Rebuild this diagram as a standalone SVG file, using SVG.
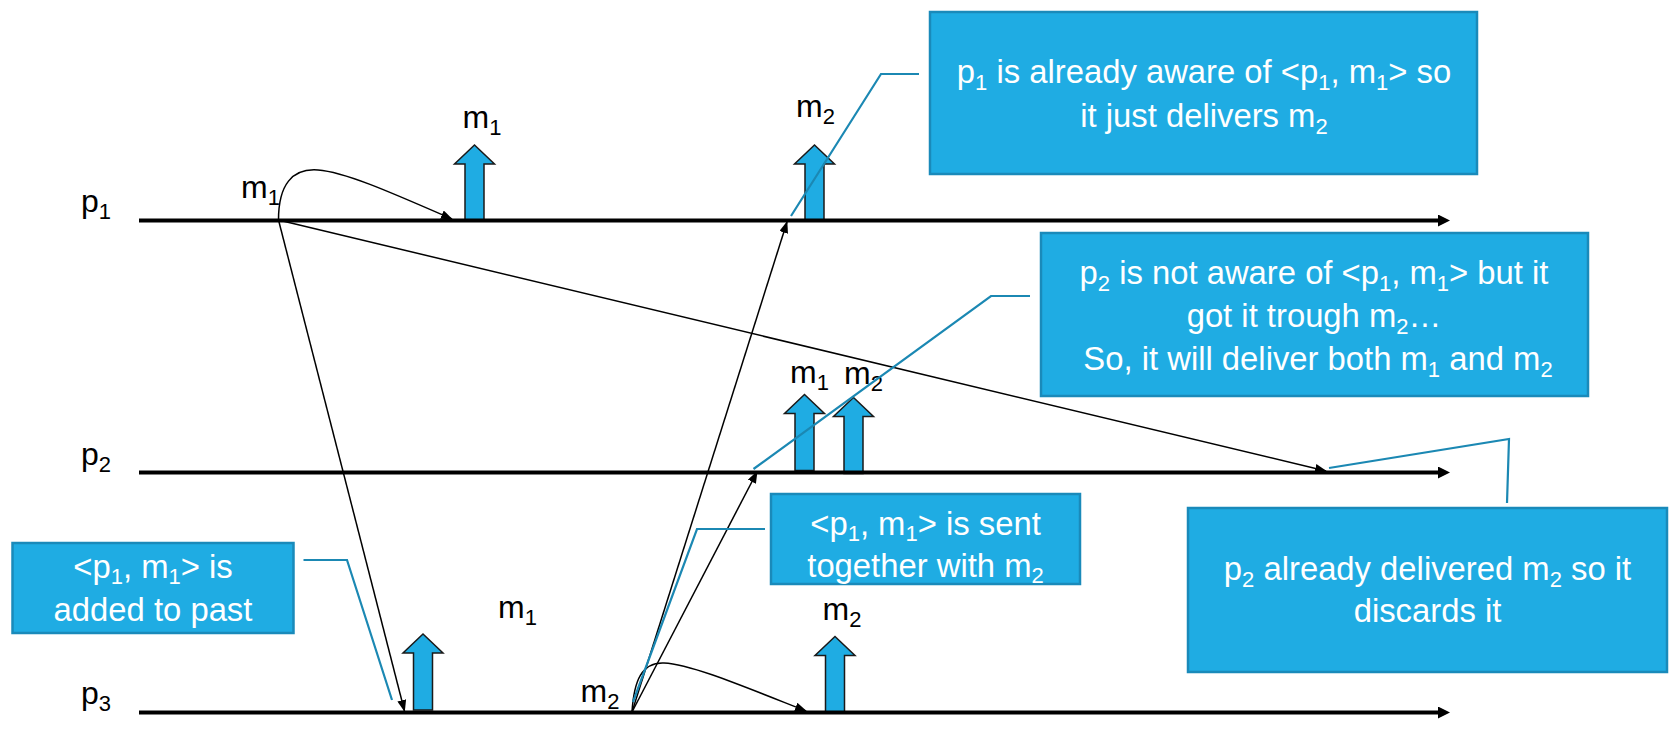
<svg xmlns="http://www.w3.org/2000/svg" xmlns:xlink="http://www.w3.org/1999/xlink" width="1679" height="729" viewBox="0 0 1679 729">
<style>
  .lbl { font-family: "Liberation Sans", Arial, sans-serif; font-size: 32px; fill: #000; }
  .box { fill: #1FACE3; stroke: #1A8ABA; stroke-width: 2.5; }
  .btxt { font-family: "Liberation Sans", Arial, sans-serif; font-size: 32.8px; fill: #fff; text-anchor: middle; }
  .s { font-size: 22px; }
  .proc { stroke: #000; stroke-width: 4; fill: none; marker-end: url(#bigHead); }
  .msg { stroke: #000; stroke-width: 1.5; fill: none; marker-end: url(#smallHead); }
  .call { stroke: #1B88B3; stroke-width: 2.2; fill: none; }
  .deliver { fill: #1FACE3; stroke: #1a1a1a; stroke-width: 1.5; }
</style>
<defs>
  <marker id="bigHead" viewBox="0 0 12 12" refX="1" refY="6" markerWidth="12" markerHeight="12" markerUnits="userSpaceOnUse" orient="auto">
    <path d="M0,0 L12,6 L0,12 z" fill="#000"/>
  </marker>
  <marker id="smallHead" viewBox="0 0 12 9" refX="11" refY="4.5" markerWidth="12" markerHeight="9" markerUnits="userSpaceOnUse" orient="auto">
    <path d="M0,0 L12,4.5 L0,9 z" fill="#000"/>
  </marker>
  <path id="blueArrow" d="M0,0 L20,19 L9.5,19 L9.5,76 L-9.5,76 L-9.5,19 L-20,19 Z"/>
</defs>

<!-- delivery arrows -->
<g id="deliveries">
  <use xlink:href="#blueArrow" href="#blueArrow" class="deliver" x="474.5" y="145"/>
  <use xlink:href="#blueArrow" href="#blueArrow" class="deliver" x="814.5" y="145"/>
  <use xlink:href="#blueArrow" href="#blueArrow" class="deliver" x="804.5" y="394.5"/>
  <use xlink:href="#blueArrow" href="#blueArrow" class="deliver" x="853.5" y="397.5"/>
  <use xlink:href="#blueArrow" href="#blueArrow" class="deliver" x="423" y="634"/>
  <use xlink:href="#blueArrow" href="#blueArrow" class="deliver" x="835" y="636.5"/>
</g>

<!-- process lines -->
<g id="processes">
  <g id="p1">
    <line class="proc" x1="139" y1="220.5" x2="1439" y2="220.5"/>
    <text class="lbl" x="81" y="212">p<tspan class="s" dy="7">1</tspan></text>
  </g>
  <g id="p2">
    <line class="proc" x1="139" y1="472.5" x2="1439" y2="472.5"/>
    <text class="lbl" x="81" y="465">p<tspan class="s" dy="7">2</tspan></text>
  </g>
  <g id="p3">
    <line class="proc" x1="139" y1="712.5" x2="1439" y2="712.5"/>
    <text class="lbl" x="81" y="704">p<tspan class="s" dy="7">3</tspan></text>
  </g>
</g>

<!-- message connectors -->
<g id="connectors">
  <path class="msg" d="M278.5,220 C278.5,185 292,168 318,170 C345,172 390,192 452,219"/>
  <line class="msg" x1="278.5" y1="220" x2="404.5" y2="711"/>
  <line class="msg" x1="278.5" y1="220" x2="1326" y2="471"/>
  <line class="msg" x1="632" y1="712" x2="787" y2="222"/>
  <line class="msg" x1="632" y1="712" x2="757" y2="472"/>
  <path class="msg" d="M632,712 C634,680 642,662 664,663 C690,664 740,685 806,711"/>
</g>

<!-- message labels -->
<g id="labels">
  <text class="lbl" x="241" y="198">m<tspan class="s" dy="7">1</tspan></text>
  <text class="lbl" x="462.5" y="128">m<tspan class="s" dy="7">1</tspan></text>
  <text class="lbl" x="796" y="117">m<tspan class="s" dy="7">2</tspan></text>
  <text class="lbl" x="790" y="382.5">m<tspan class="s" dy="7">1</tspan></text>
  <text class="lbl" x="844" y="383.5">m<tspan class="s" dy="7">2</tspan></text>
  <text class="lbl" x="498" y="618">m<tspan class="s" dy="7">1</tspan></text>
  <text class="lbl" x="580.5" y="702">m<tspan class="s" dy="7">2</tspan></text>
  <text class="lbl" x="822.5" y="620">m<tspan class="s" dy="7">2</tspan></text>
</g>

<!-- callout boxes -->
<g id="note1">
  <rect class="box" x="930" y="12" width="547" height="162"/>
  <text class="btxt" x="1204" y="83">p<tspan class="s" dy="7">1</tspan><tspan dy="-7"> is already aware of &lt;p</tspan><tspan class="s" dy="7">1</tspan><tspan dy="-7">, m</tspan><tspan class="s" dy="7">1</tspan><tspan dy="-7">&gt; so</tspan></text>
  <text class="btxt" x="1204" y="127">it just delivers m<tspan class="s" dy="7">2</tspan></text>
</g>
<g id="note2">
  <rect class="box" x="1041" y="233" width="547" height="163"/>
  <text class="btxt" x="1314" y="284">p<tspan class="s" dy="7">2</tspan><tspan dy="-7"> is not aware of &lt;p</tspan><tspan class="s" dy="7">1</tspan><tspan dy="-7">, m</tspan><tspan class="s" dy="7">1</tspan><tspan dy="-7">&gt; but it</tspan></text>
  <text class="btxt" x="1314" y="327">got it trough m<tspan class="s" dy="7">2</tspan><tspan dy="-7">…</tspan></text>
  <text class="btxt" x="1318" y="370">So, it will deliver both m<tspan class="s" dy="7">1</tspan><tspan dy="-7"> and m</tspan><tspan class="s" dy="7">2</tspan></text>
</g>
<g id="note3">
  <rect class="box" x="771" y="494" width="309" height="90"/>
  <text class="btxt" x="925.5" y="535">&lt;p<tspan class="s" dy="6">1</tspan><tspan dy="-6">, m</tspan><tspan class="s" dy="6">1</tspan><tspan dy="-6">&gt; is sent</tspan></text>
  <text class="btxt" x="925.5" y="577">together with m<tspan class="s" dy="6">2</tspan></text>
</g>
<g id="note4">
  <rect class="box" x="1188" y="508" width="479" height="164"/>
  <text class="btxt" x="1427.5" y="580">p<tspan class="s" dy="7">2</tspan><tspan dy="-7"> already delivered m</tspan><tspan class="s" dy="7">2</tspan><tspan dy="-7"> so it</tspan></text>
  <text class="btxt" x="1427.5" y="622">discards it</text>
</g>
<g id="note5">
  <rect class="box" x="12.5" y="543" width="281" height="90"/>
  <text class="btxt" x="153" y="578">&lt;p<tspan class="s" dy="6">1</tspan><tspan dy="-6">, m</tspan><tspan class="s" dy="6">1</tspan><tspan dy="-6">&gt; is</tspan></text>
  <text class="btxt" x="153" y="621">added to past</text>
</g>

<!-- callout leader lines -->
<g id="callouts">
  <polyline class="call" points="919,74 881,74 791,216"/>
  <polyline class="call" points="1030,296 991,296 753.5,469"/>
  <polyline class="call" points="765,529 697,529 633,702"/>
  <polyline class="call" points="1329,468 1509,439 1507,503"/>
  <polyline class="call" points="303.5,560 347,560 392,700"/>
</g>
</svg>
